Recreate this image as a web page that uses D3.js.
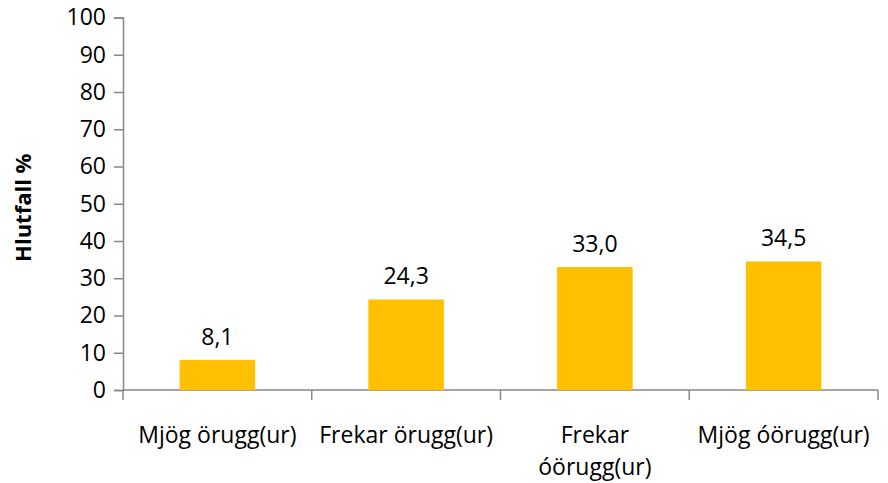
<!DOCTYPE html>
<html>
<head>
<meta charset="utf-8">
<script src="https://cdn.jsdelivr.net/npm/d3@7"></script>
<style>
  body { margin: 0; background: #fff; }
  text { font-family: "Open Sans", "Liberation Sans", sans-serif; fill: #000; }
</style>
</head>
<body>
<div class="chart"></div>
<script>
// chart values
const categories = ["Mjög örugg(ur)", "Frekar örugg(ur)", "Frekar óörugg(ur)", "Mjög óörugg(ur)"];
const values = [8.1, 24.3, 33.0, 34.5];
const yTicks = [0, 10, 20, 30, 40, 50, 60, 70, 80, 90, 100];
const yTitle = "Hlutfall %";

const W = 888, H = 483;
const margin = { left: 123, right: 10, top: 17.5, bottom: 93 };
const width = 878 - margin.left;
const height = 390 - margin.top;
const fs = 23;

const svg = d3.select(".chart").append("svg")
    .attr("width", W)
    .attr("height", H);

const g = svg.append("g")
    .attr("transform", `translate(${margin.left}, ${margin.top})`);

const x = d3.scaleBand()
    .domain(categories)
    .range([0, width])
    .paddingInner(0.6)
    .paddingOuter(0.3);

const y = d3.scaleLinear()
    .domain([0, 100])
    .range([height, 0]);

// y axis
const yAxis = g.append("g")
    .attr("font-size", fs)
    .call(d3.axisLeft(y).tickValues(yTicks).tickSize(9).tickPadding(8).tickFormat(d3.format("d")));
yAxis.selectAll("line, path").attr("stroke", "#888").attr("stroke-width", 1.5);
yAxis.selectAll("text")
    .style("font-size", fs + "px")
    .attr("fill", "#000");

// x axis line with ticks at category borders
const borders = d3.range(categories.length + 1).map(i => i * width / categories.length);
g.append("line")
    .attr("x1", 0).attr("x2", width)
    .attr("y1", y(0)).attr("y2", y(0))
    .attr("stroke", "#888").attr("stroke-width", 1.5);
g.selectAll(".xtick")
    .data(borders)
    .join("line")
    .attr("x1", d => d).attr("x2", d => d)
    .attr("y1", y(0)).attr("y2", y(0) + 10)
    .attr("stroke", "#888").attr("stroke-width", 1.5);

// bars
g.selectAll(".bar")
    .data(values)
    .join("rect")
    .attr("x", (d, i) => x(categories[i]))
    .attr("y", d => y(d))
    .attr("width", x.bandwidth())
    .attr("height", d => y(0) - y(d))
    .attr("fill", "#ffc000");

// value labels
g.selectAll(".vlabel")
    .data(values)
    .join("text")
    .attr("x", (d, i) => x(categories[i]) + x.bandwidth() / 2)
    .attr("y", d => y(d) - 15)
    .attr("text-anchor", "middle")
    .style("font-size", fs + "px")
    .text(d => d3.format(".1f")(d).replace(".", ","));

// category labels, wrapped like the original
const catLines = [["Mjög örugg(ur)"], ["Frekar örugg(ur)"], ["Frekar", "óörugg(ur)"], ["Mjög óörugg(ur)"]];
g.selectAll(".xlabel")
    .data(categories)
    .join("text")
    .attr("text-anchor", "middle")
    .style("font-size", fs + "px")
    .attr("transform", d => `translate(${x(d) + x.bandwidth() / 2}, ${y(0) + 53})`)
    .each(function (d, i) {
        const t = d3.select(this);
        catLines[i].forEach((ln, j) => {
            t.append("tspan").attr("x", 0).attr("dy", j === 0 ? 0 : 32).text(ln);
        });
    });

// y title
svg.append("text")
    .attr("transform", `translate(31, ${margin.top + height / 2 + 4}) rotate(-90)`)
    .attr("text-anchor", "middle")
    .style("font-size", "22px")
    .attr("font-weight", "bold")
    .text(yTitle);
</script>
</body>
</html>
